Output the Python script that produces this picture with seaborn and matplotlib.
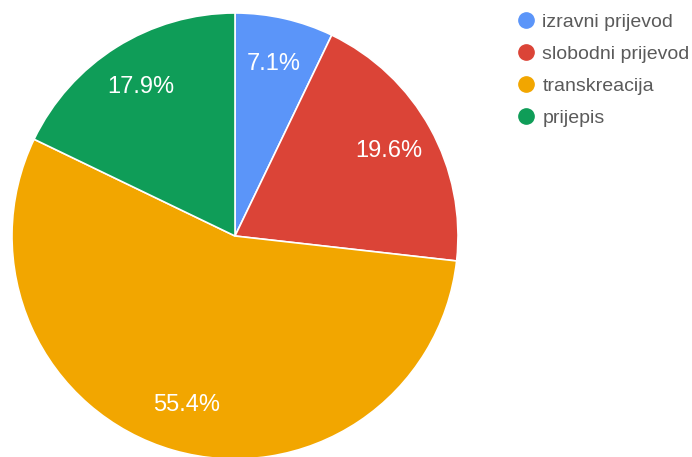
import matplotlib
matplotlib.use("Agg")
import matplotlib.pyplot as plt
from matplotlib.lines import Line2D
import seaborn as sns

categories = ["izravni prijevod", "slobodni prijevod", "transkreacija", "prijepis"]
values = [4, 11, 31, 10]
colors = ["#5b95f9", "#db4437", "#f2a600", "#0f9d58"]

sns.set_theme(style="white")
plt.rcParams["font.family"] = ["Liberation Sans", "DejaVu Sans"]

fig = plt.figure(figsize=(6.92, 4.57), dpi=100)
ax = fig.add_axes([12/692, (457-459)/457, 446/692, 446/457])
wedges, texts, autotexts = ax.pie(
    values, colors=colors, startangle=90, counterclock=False,
    autopct="%1.1f%%", pctdistance=0.79,
    wedgeprops=dict(edgecolor="white", linewidth=1.2),
    textprops=dict(color="white", fontsize=17),
)
ax.set_xlim(-1, 1)
ax.set_ylim(-1, 1)
ax.set_aspect("equal")
ax.axis("off")

handles = [Line2D([0], [0], marker="o", linestyle="", markersize=11,
                  markerfacecolor=c, markeredgecolor=c) for c in colors]
leg = fig.legend(handles, categories, loc="upper left",
                 bbox_to_anchor=(518/692, 1 - 13/457), frameon=False,
                 fontsize=14, handlelength=0.8, handletextpad=0.45,
                 labelspacing=0.74, borderpad=0, borderaxespad=0)
for t in leg.get_texts():
    t.set_color("#5a5a5a")

fig.savefig("out.png", dpi=100)
